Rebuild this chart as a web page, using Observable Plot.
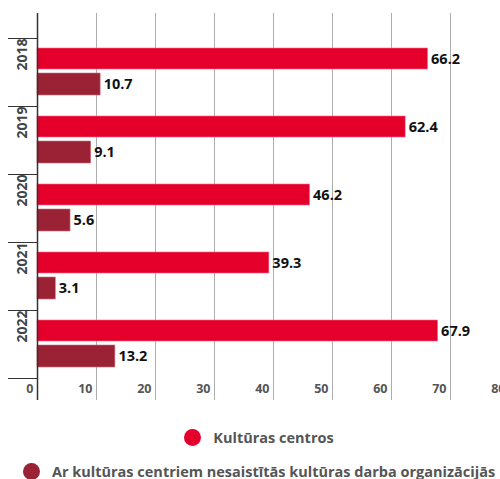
<!DOCTYPE html>
<html><head><meta charset="utf-8">
<script src="https://cdn.jsdelivr.net/npm/d3@7"></script>
<script src="https://cdn.jsdelivr.net/npm/@observablehq/plot@0.6"></script>
<style>
html,body{margin:0;padding:0;background:#fff;}
#wrap{width:500px;height:479px;overflow:hidden;position:relative;font-family:"Open Sans",sans-serif;}
#chart{width:540px;}
#chart svg{max-width:none !important;display:block;}
#legend{width:518px;font-weight:700;font-size:14.5px;color:#555;}
.row{display:flex;justify-content:center;align-items:center;white-space:nowrap;}
.dot{width:17px;height:17px;border-radius:50%;margin-right:12px;flex:none;}
</style></head>
<body><div id="wrap"><div id="chart"></div><div id="legend"></div></div>
<script>
const years = ["2018","2019","2020","2021","2022"];
const kulturasCentros = [66.2, 62.4, 46.2, 39.3, 67.9];
const nesaistitas = [10.7, 9.1, 5.6, 3.1, 13.2];
const seriesNames = ["Kultūras centros", "Ar kultūras centriem nesaistītās kultūras darba organizācijās"];
const seriesColors = ["#e4002b", "#9b2134"];
const xTicks = [0,10,20,30,40,50,60,70,80];

const dataA = years.map((y,i)=>({year:y, value:kulturasCentros[i]}));
const dataB = years.map((y,i)=>({year:y, value:nesaistitas[i]}));

const chart = Plot.plot({
  width: 540, height: 420,
  marginLeft: 37, marginRight: 31, marginTop: 13, marginBottom: 20,
  style: {fontFamily: "Open Sans, sans-serif", background: "#fff", maxWidth: "none"},
  x: {domain: [0, 80], ticks: xTicks, label: null},
  y: {domain: years, padding: 0, insetTop: 25, insetBottom: 22, label: null},
  marks: [
    Plot.gridX(xTicks, {stroke: "#999", strokeOpacity: 0.8}),
    Plot.barX(dataA, {x: "value", y: "year", fill: seriesColors[0], insetTop: 10, insetBottom: 37, stroke: "#f2708a", strokeWidth: 0.6}),
    Plot.barX(dataB, {x: "value", y: "year", fill: seriesColors[1], insetTop: 35, insetBottom: 11, stroke: "#d07080", strokeWidth: 0.6}),
    Plot.ruleX([0], {stroke: "#333", strokeWidth: 1.5}),
    Plot.axisY({text: null, tickSize: 29, dy: -34, stroke: "#333", label: null}),
    Plot.axisY({ticks: [years[years.length-1]], text: null, tickSize: 29, dy: 34, stroke: "#333", label: null}),
    Plot.text(years, {y: d => d, text: d => d, frameAnchor: "left", rotate: -90, dx: -15, dy: -2, fontSize: 14, fontWeight: 700, fill: "#444"}),
    Plot.axisX(xTicks, {tickSize: 0, tickPadding: 0, textAnchor: "end", dx: -4, dy: -16, fontSize: 12.5, fontWeight: 700, fill: "#555", label: null}),
    Plot.text(dataA, {x: "value", y: "year", text: d => d.value.toFixed(1), textAnchor: "start", dx: 3, dy: -13, fontSize: 14.5, fontWeight: 700, fill: "#111"}),
    Plot.text(dataB, {x: "value", y: "year", text: d => d.value.toFixed(1), textAnchor: "start", dx: 3, dy: 12, fontSize: 14.5, fontWeight: 700, fill: "#111"})
  ]
});
document.getElementById("chart").appendChild(chart);

const legend = document.getElementById("legend");
seriesNames.forEach((name, i) => {
  const row = document.createElement("div");
  row.className = "row";
  row.style.height = "34px";
  row.innerHTML = `<span class="dot" style="background:${seriesColors[i]}"></span><span>${name}</span>`;
  legend.appendChild(row);
});
</script></body></html>
